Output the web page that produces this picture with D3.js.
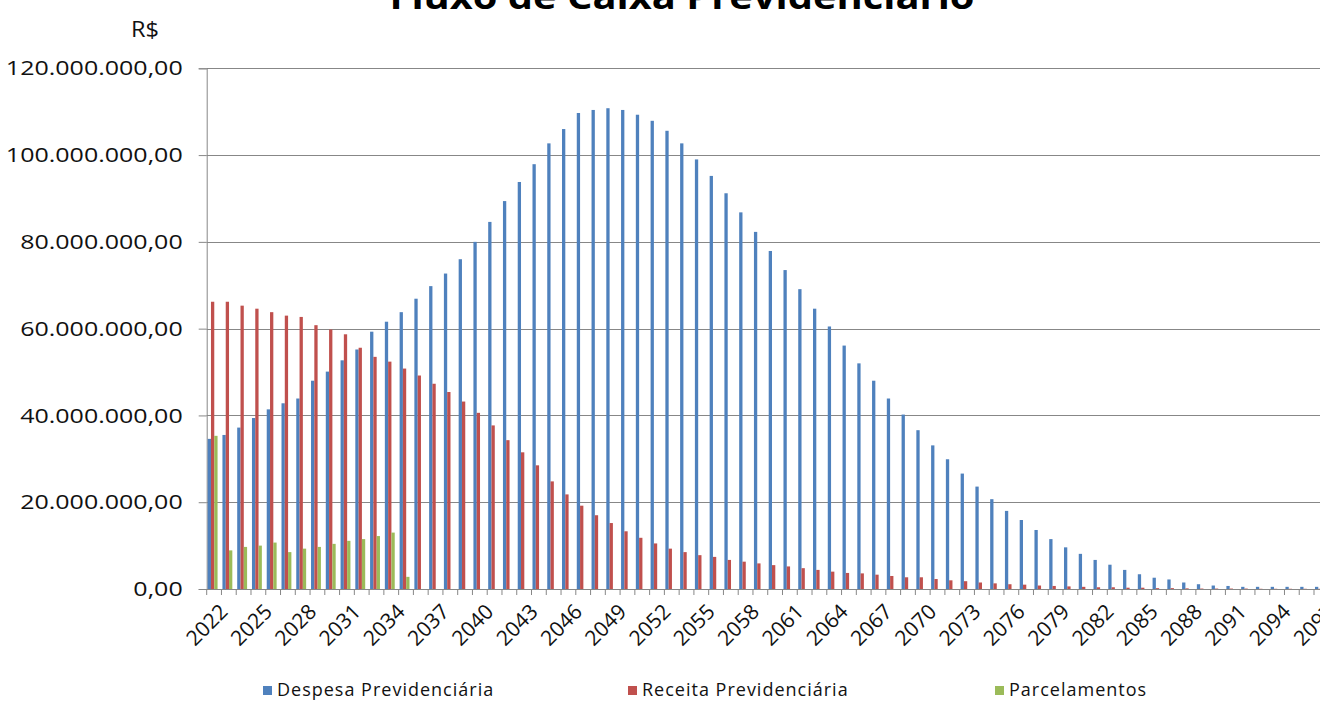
<!DOCTYPE html>
<html>
<head>
<meta charset="utf-8">
<script src="https://cdn.jsdelivr.net/npm/d3@7"></script>
<style>
  html, body { margin: 0; padding: 0; background: #fff; overflow: hidden; }
  svg { display: block; font-family: "Open Sans", "Liberation Sans", sans-serif; }
</style>
</head>
<body>
<svg id="chart" width="1320" height="704"></svg>
<script>
// Anos da projeção atuarial
const anos = d3.range(2022, 2098);

// Valores em milhões de R$
const despesaMi = [
  34.6, 35.5, 37.2, 39.4, 41.4, 42.8, 43.9, 48.0, 50.1, 52.7,
  55.2, 59.3, 61.6, 63.8, 66.9, 69.8, 72.7, 76.0, 80.0, 84.6,
  89.4, 93.8, 97.9, 102.7, 106.0, 109.7, 110.4, 110.8, 110.4, 109.3,
  107.9, 105.6, 102.7, 99.0, 95.2, 91.2, 86.8, 82.3, 77.9, 73.5,
  69.1, 64.6, 60.5, 56.1, 52.0, 48.0, 43.9, 40.2, 36.6, 33.1,
  29.9, 26.6, 23.6, 20.7, 18.0, 15.9, 13.6, 11.5, 9.6, 8.1,
  6.7, 5.6, 4.4, 3.4, 2.6, 2.2, 1.5, 1.1, 0.8, 0.7,
  0.5, 0.5, 0.5, 0.5, 0.5, 0.5
];
const receitaMi = [
  66.2, 66.2, 65.3, 64.6, 63.8, 63.0, 62.7, 60.8, 59.8, 58.7,
  55.6, 53.5, 52.4, 50.8, 49.2, 47.3, 45.4, 43.2, 40.6, 37.7,
  34.3, 31.5, 28.5, 24.8, 21.8, 19.2, 17.0, 15.2, 13.3, 11.8,
  10.5, 9.3, 8.5, 7.8, 7.4, 6.7, 6.3, 5.9, 5.5, 5.2,
  4.8, 4.4, 4.0, 3.7, 3.6, 3.3, 3.0, 2.7, 2.7, 2.3,
  2.0, 1.8, 1.5, 1.3, 1.1, 1.0, 0.8, 0.7, 0.6, 0.5,
  0.4, 0.4, 0.3, 0.3, 0.2, 0.2, 0.15, 0.1, 0.1, 0.1,
  0.1, 0.05, 0.05, 0.05, 0.05, 0.05
];
const parcelamentosMi = [
  35.3, 8.9, 9.7, 10.0, 10.7, 8.5, 9.3, 9.7, 10.4, 11.1,
  11.5, 12.2, 13.0, 2.8, 0, 0, 0, 0, 0, 0,
  0, 0, 0, 0, 0, 0, 0, 0, 0, 0,
  0, 0, 0, 0, 0, 0, 0, 0, 0, 0,
  0, 0, 0, 0, 0, 0, 0, 0, 0, 0,
  0, 0, 0, 0, 0, 0, 0, 0, 0, 0,
  0, 0, 0, 0, 0, 0, 0, 0, 0, 0,
  0, 0, 0, 0, 0, 0
];

const seriesNomes = ["Despesa Previdenciária", "Receita Previdenciária", "Parcelamentos"];
const seriesCores = ["#4F81BD", "#C0504D", "#9BBB59"];
const yTicksMi = [0, 20, 40, 60, 80, 100, 120];
const tituloTexto = "Fluxo de Caixa Previdenciário";
const unidadeTexto = "R$";

const series = [despesaMi, receitaMi, parcelamentosMi];

const svg = d3.select("#chart");
const plotLeft = 206.7, plotTop = 68.3, plotBottom = 589, step = 14.764;
const plotRight = plotLeft + step * anos.length;
const gridColor = "#878787";
const textColor = "#111";

// Alarga horizontalmente um texto em torno do seu ponto de ancoragem
function stretch(sel, sx, ax) {
  sel.each(function () {
    const t = d3.select(this);
    const xx = ax !== undefined ? ax : +t.attr("x") || 0;
    t.attr("transform", `translate(${xx},0) scale(${sx},1) translate(${-xx},0)`);
  });
}

const x0 = d3.scaleBand().domain(anos).range([plotLeft, plotRight]).padding(0);
const x1 = d3.scaleBand().domain(d3.range(series.length))
  .range([0, x0.bandwidth()]).paddingInner(0).paddingOuter(0.74).align(0.2);
const y = d3.scaleLinear().domain([0, 120]).range([plotBottom, plotTop]);

const br = d3.formatLocale({ decimal: ",", thousands: ".", grouping: [3], currency: ["R$", ""] });
const fmt = br.format(",.2f");

// Título (parcialmente fora da área visível)
svg.append("text")
  .attr("x", 682).attr("y", 9)
  .attr("text-anchor", "middle")
  .attr("font-size", 34).attr("font-weight", "bold")
  .attr("textLength", 585).attr("lengthAdjust", "spacingAndGlyphs")
  .attr("fill", "#000")
  .text(tituloTexto);

svg.append("text")
  .attr("x", 145).attr("y", 37)
  .attr("text-anchor", "middle")
  .attr("font-size", 21).attr("fill", textColor)
  .text(unidadeTexto)
  .call(stretch, 1.12, 145);

// Linhas de grade horizontais
svg.append("g").selectAll("line").data(yTicksMi.slice(1)).join("line")
  .attr("x1", plotLeft).attr("x2", 1320)
  .attr("y1", d => Math.round(y(d)) + 0.5).attr("y2", d => Math.round(y(d)) + 0.5)
  .attr("stroke", gridColor).attr("stroke-width", 1);

// Eixo Y
const yAxis = svg.append("g")
  .attr("transform", `translate(${plotLeft},0)`)
  .call(d3.axisLeft(y).tickValues(yTicksMi).tickSize(8).tickPadding(16)
    .tickFormat(d => fmt(d * 1e6)));
yAxis.select(".domain").attr("stroke", gridColor);
yAxis.selectAll(".tick line").attr("stroke", gridColor);
yAxis.selectAll(".tick text")
  .attr("font-size", 20.5).attr("fill", textColor)
  .attr("font-family", "'Open Sans', sans-serif")
  .call(stretch, 1.22);

// Barras
const groups = svg.append("g").selectAll("g").data(anos).join("g")
  .attr("transform", d => `translate(${x0(d)},0)`);
groups.selectAll("rect")
  .data((d, i) => series.map((s, k) => ({ k, v: s[i] })))
  .join("rect")
  .attr("x", d => x1(d.k))
  .attr("width", x1.bandwidth())
  .attr("y", d => y(d.v))
  .attr("height", d => plotBottom - y(d.v))
  .attr("fill", d => seriesCores[d.k]);

// Eixo X
const xAxisLine = svg.append("g");
xAxisLine.append("line")
  .attr("x1", plotLeft).attr("x2", 1320)
  .attr("y1", plotBottom + 0.5).attr("y2", plotBottom + 0.5)
  .attr("stroke", gridColor);
xAxisLine.selectAll("line.tk").data(d3.range(anos.length + 1)).join("line")
  .attr("class", "tk")
  .attr("x1", i => plotLeft + i * x0.step()).attr("x2", i => plotLeft + i * x0.step())
  .attr("y1", plotBottom).attr("y2", plotBottom + 6)
  .attr("stroke", gridColor);

const rotulosAnos = anos.filter((a, i) => i % 3 === 0);
svg.append("g").selectAll("text").data(rotulosAnos).join("text")
  .attr("text-anchor", "end")
  .attr("font-size", 21).attr("fill", textColor)
  .attr("transform", d => `translate(${x0(d) + x0.bandwidth() / 2 + 15},${plotBottom + 24}) rotate(-45)`)
  .text(d => d);

// Legenda
const legX = [263, 628, 995];
const leg = svg.append("g").selectAll("g").data(seriesNomes).join("g")
  .attr("transform", (d, i) => `translate(${legX[i]},686)`);
leg.append("rect").attr("width", 9).attr("height", 9).attr("fill", (d, i) => seriesCores[i]);
leg.append("text").attr("x", 14).attr("y", 10)
  .attr("font-size", 18).attr("letter-spacing", 1).attr("fill", textColor)
  .text(d => d);
</script>
</body>
</html>
